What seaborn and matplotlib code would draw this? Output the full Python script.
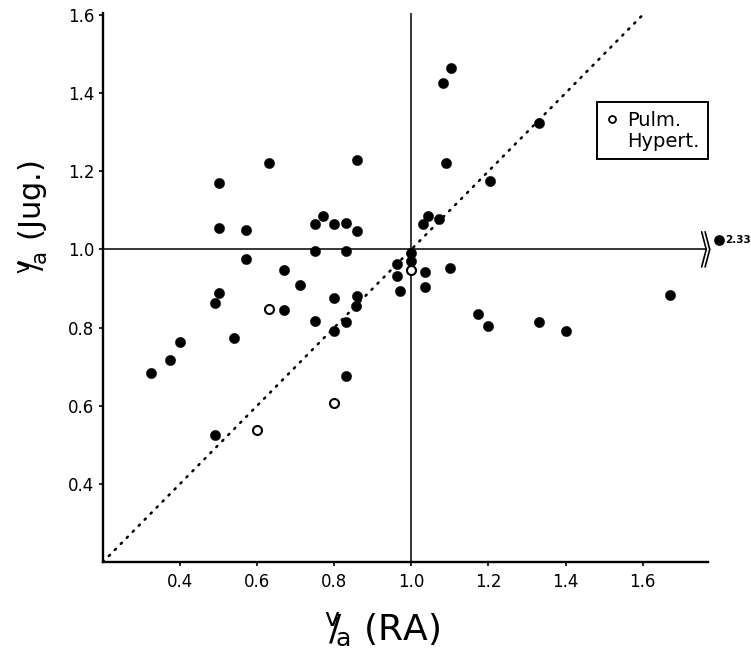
import numpy as np
import pandas as pd
import matplotlib
matplotlib.use("Agg")
import matplotlib.pyplot as plt
import seaborn as sns
from matplotlib.lines import Line2D

# ---- data ----
ra_filled = [0.50, 0.63, 0.86, 0.50, 0.57, 0.77, 0.75, 0.80, 0.83, 0.86,
             0.75, 0.83, 0.57, 0.67, 0.71, 0.50, 0.49, 0.67, 0.80, 0.86,
             0.857, 0.75, 0.83, 0.80, 0.54, 0.40, 0.375, 0.326, 0.83, 0.49,
             0.963, 0.963, 0.971, 1.00, 1.00, 1.042, 1.071, 1.031, 1.035, 1.035,
             1.101, 1.104, 1.081, 1.09, 1.332, 1.203, 1.172, 1.20, 1.331, 1.40,
             1.67]
jug_filled = [1.17, 1.22, 1.23, 1.055, 1.05, 1.086, 1.064, 1.066, 1.067, 1.047,
              0.997, 0.997, 0.976, 0.947, 0.909, 0.888, 0.862, 0.846, 0.876, 0.882,
              0.856, 0.817, 0.813, 0.79, 0.774, 0.764, 0.718, 0.684, 0.675, 0.526,
              0.962, 0.933, 0.894, 0.99, 0.970, 1.086, 1.078, 1.064, 0.943, 0.905,
              0.952, 1.465, 1.426, 1.222, 1.324, 1.176, 0.835, 0.804, 0.814, 0.792,
              0.884]
ra_open = [0.60, 0.63, 0.80, 1.00]
jug_open = [0.538, 0.848, 0.608, 0.947]
outlier_ra_value = 2.33
outlier_jug = 1.024
outlier_label = "2.33"

x_ticks = [0.4, 0.6, 0.8, 1.0, 1.2, 1.4, 1.6]
y_ticks = [0.4, 0.6, 0.8, 1.0, 1.2, 1.4, 1.6]
legend_labels = ["Pulm.", "Hypert."]

# layout constants
XMIN, XMAX = 0.2, 1.77
YMIN, YMAX = 0.2, 1.605
BREAK_X = 1.765        # where the x axis is broken
OUTLIER_DRAW_X = 1.798  # drawn position of the off-scale point

df_f = pd.DataFrame({"ra": ra_filled, "jug": jug_filled})
df_o = pd.DataFrame({"ra": ra_open, "jug": jug_open})

sns.set_style("ticks")
plt.rcParams["font.family"] = ["DejaVu Sans"]
plt.rcParams["mathtext.fontset"] = "dejavusans"
plt.rcParams["text.color"] = "black"
plt.rcParams["axes.labelcolor"] = "black"

fig = plt.figure(figsize=(7.51, 6.49), dpi=100)
ax = fig.add_axes([0.137, 0.134, 0.806, 0.846])

# reference lines
ax.plot([XMIN, 1.6], [YMIN, 1.6], ls=(0, (0.6, 2.8)), color="black", lw=1.8,
        dash_capstyle="round", zorder=1)
ax.plot([1.0, 1.0], [YMIN, YMAX], color="black", lw=1.1, zorder=1)
ax.plot([XMIN, BREAK_X], [1.0, 1.0], color="black", lw=1.1, zorder=1)

sns.scatterplot(data=df_f, x="ra", y="jug", color="black", s=55,
                edgecolor="black", linewidth=0.3, ax=ax, legend=False, zorder=3)
sns.scatterplot(data=df_o, x="ra", y="jug", marker="o", s=42,
                facecolor="white", edgecolor="black", linewidth=1.5,
                ax=ax, legend=False, zorder=3)

# axis break on the horizontal line and the off-scale point
for dx in (0.0, 0.009):
    ax.plot([BREAK_X - 0.012 + dx, BREAK_X + dx, BREAK_X - 0.012 + dx],
            [1.045, 1.0, 0.955], color="black", lw=1.2, clip_on=False, zorder=2)
ax.scatter([OUTLIER_DRAW_X], [outlier_jug], s=45, color="black", clip_on=False, zorder=3)
ax.text(OUTLIER_DRAW_X + 0.016, outlier_jug, outlier_label, fontsize=7.5,
        fontweight="bold", va="center", ha="left", clip_on=False)

ax.set_xlim(XMIN, XMAX)
ax.set_ylim(YMIN, YMAX)
ax.set_xticks(x_ticks)
ax.set_yticks(y_ticks)
ax.set_xticklabels([f"{v:.1f}" for v in x_ticks])
ax.set_yticklabels([f"{v:.1f}" for v in y_ticks])
ax.tick_params(axis="both", labelsize=12, length=3, width=1.2, color="black",
               labelcolor="black")
ax.tick_params(axis="x", pad=5)
ax.tick_params(axis="y", pad=3)
sns.despine(ax=ax)
for s in ("left", "bottom"):
    ax.spines[s].set_linewidth(1.7)
    ax.spines[s].set_color("black")

ax.set_xlabel(r"$^{\mathsf{v}}\!\!/\!_{\mathsf{a}}$ (RA)", fontsize=26, color="black")
ax.set_ylabel(r"$^{\mathsf{v}}\!\!/\!_{\mathsf{a}}$ (Jug.)", fontsize=22, color="black")
ax.xaxis.set_label_coords(0.461, -0.088)
ax.yaxis.set_label_coords(-0.088, 0.628)

handles = [Line2D([], [], marker="o", ls="", mfc="white", mec="black", mew=1.3, ms=5),
           Line2D([], [], ls="", marker="")]
leg = ax.legend(handles, legend_labels, loc="upper right", bbox_to_anchor=(1.0, 0.838),
                borderaxespad=0, frameon=True, fancybox=False, edgecolor="black",
                framealpha=1, fontsize=14, handlelength=0.6, handletextpad=0.5,
                labelspacing=0.1, borderpad=0.45)
leg.get_frame().set_linewidth(1.4)
for t in leg.get_texts():
    t.set_color("black")

fig.savefig("out.png", dpi=100, facecolor="white")
